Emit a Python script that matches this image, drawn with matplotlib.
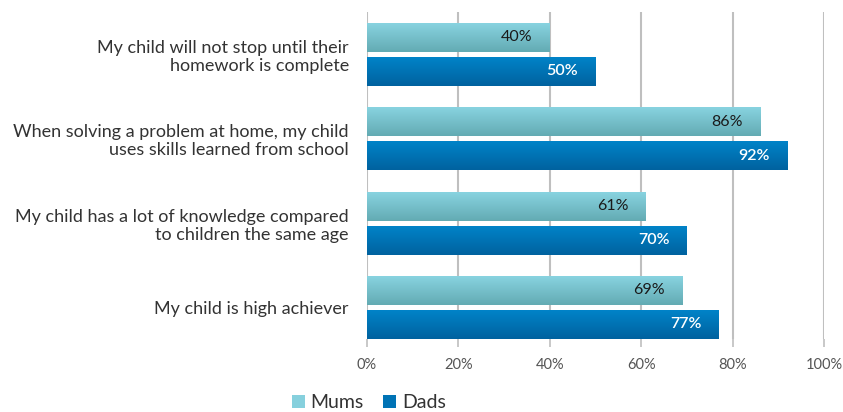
import matplotlib
matplotlib.use("Agg")
import matplotlib.pyplot as plt
import numpy as np
from matplotlib.colors import LinearSegmentedColormap
from matplotlib.patches import Patch

categories = [
    "My child will not stop until their\nhomework is complete",
    "When solving a problem at home, my child\nuses skills learned from school",
    "My child has a lot of knowledge compared\nto children the same age",
    "My child is high achiever",
]
mums = [40, 86, 61, 69]
dads = [50, 92, 70, 77]
series_names = ["Mums", "Dads"]
xticks = [0, 20, 40, 60, 80, 100]
xtick_labels = ["0%", "20%", "40%", "60%", "80%", "100%"]

plt.rcParams['font.family'] = ['Lato', 'DejaVu Sans']

W, H = 843, 412
fig = plt.figure(figsize=(W / 100, H / 100), dpi=100)
ax = fig.add_axes([367 / W, 1 - 339 / H, (824 - 367) / W, (339 - 12) / H])

unit = 84.33
off = 17 / unit
bh = 29 / unit
y = np.arange(len(categories))

mum_cmap = LinearSegmentedColormap.from_list("m", ["#88d3e0", "#63abb3"])
dad_cmap = LinearSegmentedColormap.from_list("d", ["#0083c8", "#00629f"])

grad = np.linspace(0, 1, 64).reshape(-1, 1)

def gradient_bars(ypos, vals, cmap):
    bars = ax.barh(ypos, vals, height=bh, color="none", edgecolor="none", zorder=3)
    for b in bars:
        x0, y0 = b.get_x(), b.get_y()
        w, h = b.get_width(), b.get_height()
        ax.imshow(grad, cmap=cmap, aspect="auto",
                  extent=(x0, x0 + w, y0 + h, y0), zorder=3,
                  interpolation="bilinear")
    return bars

mb = gradient_bars(y - off, mums, mum_cmap)
db = gradient_bars(y + off, dads, dad_cmap)

for yi, v in zip(y - off, mums):
    ax.text(v - 3.8, yi, f"{v}%", ha="right", va="center", fontsize=11.5,
            color="#1a1a1a", zorder=5)
for yi, v in zip(y + off, dads):
    ax.text(v - 3.8, yi, f"{v}%", ha="right", va="center", fontsize=11.5,
            color="white", fontweight="semibold", zorder=5)

ax.set_xlim(0, 100)
ax.set_ylim(3.374, -0.504)
ax.set_xticks(xticks)
ax.set_xticklabels(xtick_labels, fontsize=10.5, color="#555555")
ax.set_yticks(y)
ax.set_yticklabels(categories, fontsize=13, color="#333333", ha="right",
                   linespacing=1.15)
ax.tick_params(axis="y", length=0, pad=13)
ax.tick_params(axis="x", length=6, width=1.2, color="#bfbfbf", pad=8)
for s in ax.spines.values():
    s.set_visible(False)
ax.grid(axis="x", color="#bfbfbf", linewidth=1.5, zorder=0)
ax.set_axisbelow(True)

handles = [Patch(facecolor="#86d0dd", label=series_names[0]),
           Patch(facecolor="#0073b5", label=series_names[1])]
fig.legend(handles=handles, loc="center", bbox_to_anchor=(369 / W, 1 - 403 / H),
           ncol=2, frameon=False, fontsize=14, handlelength=0.65, handleheight=0.65,
           handletextpad=0.3, columnspacing=1.0, labelcolor="#333333")

fig.savefig("out.png", dpi=100)
